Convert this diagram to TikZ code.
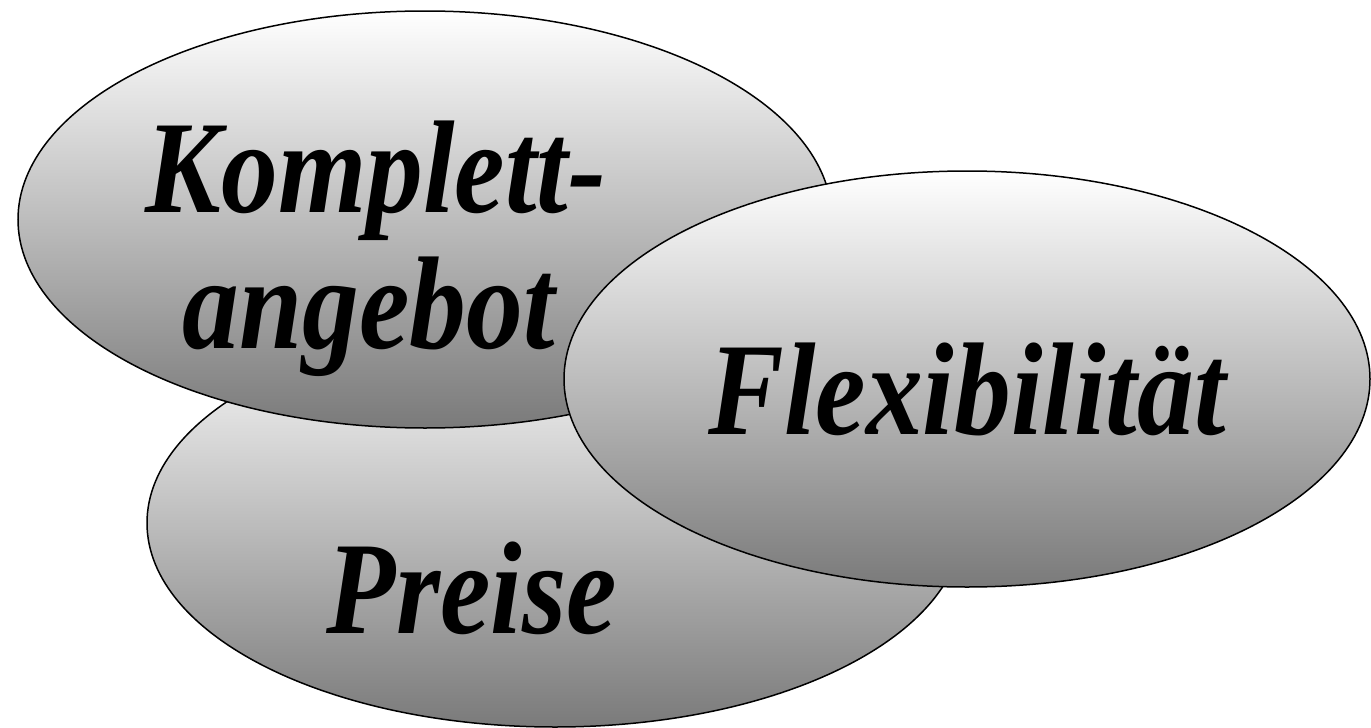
\documentclass[tikz,border=0pt]{standalone}
\usepackage{fontspec}
\setmainfont{Liberation Serif}
\newfontfamily\lblfont{Liberation Serif}[FakeStretch=0.86]
\usetikzlibrary{shapes.geometric}
\definecolor{shadebot}{RGB}{122,122,122}
\tikzset{
  blob/.style={ellipse, draw=black, line width=1.5pt, inner sep=0pt,
    top color=white, bottom color=shadebot},
  lbl/.style={font=\lblfont\fontsize{132}{150}\selectfont\bfseries\itshape, inner sep=0pt, anchor=base}
}
\begin{document}
\begin{tikzpicture}[x=1pt,y=-1pt]
\useasboundingbox (0,0) rectangle (1371,728);
% back ellipse
\node[blob, minimum width=816pt, minimum height=408pt] (preise) at (555,523) {};
\node[lbl] (tpreise) at (472,633) {Preise};
% upper left ellipse
\node[blob, minimum width=814pt, minimum height=417pt] (komplett) at (425,219.5) {};
\node[lbl] (tk1) at (376,212) {Komplett-};
\node[lbl] (tk2) at (369,348) {angebot};
% right ellipse
\node[blob, minimum width=806pt, minimum height=416pt] (flex) at (967,379) {};
\node[lbl] (tflex) at (967,434) {Flexibilität};
\end{tikzpicture}
\end{document}
